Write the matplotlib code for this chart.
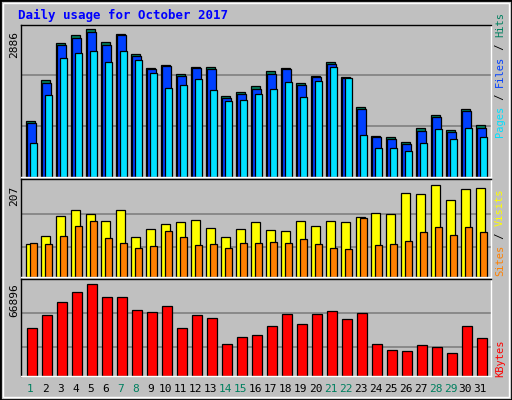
import matplotlib
matplotlib.use("Agg")
import matplotlib.pyplot as plt
from matplotlib.patches import Rectangle

days = list(range(1, 32))
weekend = [1, 7, 8, 14, 15, 21, 22, 28, 29]

hits = [1084, 1887, 2612, 2769, 2886, 2632, 2788, 2397, 2122, 2181, 2005, 2142, 2142, 1574, 1652, 1770,
        2063, 2122, 1828, 1966, 2240, 1946, 1358, 810, 790, 692, 966, 1202, 927, 1319, 1006]
files = [1064, 1828, 2573, 2710, 2827, 2573, 2769, 2357, 2103, 2161, 1966, 2122, 2103, 1535, 1613, 1711,
         2005, 2103, 1789, 1946, 2201, 1926, 1319, 790, 751, 653, 908, 1162, 888, 1280, 966]
pages = [673, 1593, 2318, 2416, 2455, 2240, 2455, 2279, 2024, 1730, 1789, 1907, 1691, 1476, 1495, 1613,
         1711, 1848, 1554, 1868, 2142, 1926, 829, 575, 575, 516, 673, 947, 751, 966, 790]
visits = [74, 92, 137, 151, 142, 126, 151, 90, 108, 119, 124, 128, 110, 90, 108, 122,
          106, 104, 126, 115, 126, 122, 135, 144, 142, 189, 185, 207, 173, 198, 200]
sites = [77, 74, 92, 115, 126, 88, 77, 65, 70, 104, 90, 72, 74, 65, 77, 77,
         79, 77, 86, 74, 65, 63, 133, 72, 74, 81, 101, 113, 95, 113, 101]
kbytes = [35280, 44100, 53655, 61005, 66896, 57330, 57330, 47775, 46305, 50715, 35280, 44100, 41895,
          23520, 28665, 30135, 36015, 44835, 37485, 44835, 47040, 41160, 45570, 23520, 19110, 18375,
          22785, 21315, 16905, 36015, 27930]

W, H = 512, 400
BG = '#c0c0c0'
fig = plt.figure(figsize=(W / 100, H / 100), dpi=100, facecolor=BG)

# outer bevel border
fig.patches.append(Rectangle((0, 0), 1, 1, transform=fig.transFigure, fill=False,
                             edgecolor='black', linewidth=2))
fig.patches.append(Rectangle((3 / W, 3 / H), 1 - 6 / W, 1 - 6 / H, transform=fig.transFigure,
                             fill=False, edgecolor='white', linewidth=1))

X0, X1 = 20.5, 490.5
ndays = (X1 - X0) / 15.0
xlo = 1 - 5.0 / 15


def make_ax(top, bottom):
    ax = fig.add_axes([X0 / W, 1 - bottom / H, (X1 - X0) / W, (bottom - top) / H])
    ax.set_facecolor(BG)
    ax.set_xlim(xlo, xlo + ndays)
    ax.set_xticks([])
    ax.set_yticks([])
    for s in ax.spines.values():
        s.set_color('white')
        s.set_linewidth(1)
    ax.spines['left'].set_color('black')
    ax.spines['top'].set_color('black')
    return ax


def grid(ax, vals):
    for v in vals:
        ax.axhline(v, color='#808080', linewidth=1.2, zorder=0)


kw = dict(align='edge', edgecolor='black', linewidth=0.9)
font = 'DejaVu Sans Mono'

# Hits / Files / Pages
ax1 = make_ax(25, 177)
mx = max(hits)
ax1.set_ylim(0, mx * 151.5 / 147.3)
grid(ax1, [mx * 51 / 147.3, mx * 102 / 147.3])
ax1.bar([d for d in days], hits, width=0.6, color='#00805f', **kw)
ax1.bar([d + 0.12 for d in days], files, width=0.55, color='#0040ff', **kw)
ax1.bar([d + 0.27 for d in days], pages, width=0.5, color='#00e0ff', **kw)

# Visits / Sites
ax2 = make_ax(179, 277)
mx = max(visits)
ax2.set_ylim(0, mx * 97.5 / 92)
grid(ax2, [mx * 30 / 92, mx * 63 / 92])
ax2.bar(days, visits, width=0.65, color='#ffff00', **kw)
ax2.bar([d + 0.27 for d in days], sites, width=0.5, color='#ff8000', **kw)

# KBytes
ax3 = make_ax(279, 376)
mx = max(kbytes)
ax3.set_ylim(0, mx * 96 / 91)
grid(ax3, [mx * 29 / 91, mx * 62 / 91])
ax3.bar([d + 0.07 for d in days], kbytes, width=0.67, color='#ff0000', **kw)

# max labels on the left
for ax, v, y in [(ax1, max(hits), 45), (ax2, max(visits), 196), (ax3, max(kbytes), 300)]:
    fig.text(14 / W, 1 - y / H, str(v), rotation=90, ha='center', va='center',
             fontsize=8, family=font, color='black')

# title
fig.text(18 / W, 1 - 15 / H, 'Daily usage for October 2017', fontsize=9, fontweight='bold',
         family=font, color='#0000ff', ha='left', va='center')

# day labels
for d in days:
    x = X0 + (d + 0.33 - xlo) * 15
    fig.text(x / W, 1 - 389 / H, str(d), ha='center', va='center', fontsize=8, family=font,
             color='#00805f' if d in weekend else 'black')

renderer = fig.canvas.get_renderer()


# right side legends (stacked rotated text, bottom-up, measured)
def legend(parts, y_bottom):
    y = y_bottom
    for txt, col in parts:
        t = fig.text(500 / W, 1 - y / H, txt, rotation=90, ha='center', va='bottom',
                     fontsize=7.5, family=font, color=col)
        y -= t.get_window_extent(renderer).height


legend([('Pages', '#00e0ff'), (' / ', 'black'), ('Files', '#0040ff'), (' / ', 'black'),
        ('Hits', '#00805f')], 137)
legend([('Sites', '#ff8000'), (' / ', 'black'), ('Visits', '#ffff00')], 276)
legend([('KBytes', '#ff0000')], 377)

fig.savefig('out.png', dpi=100, facecolor=BG)
